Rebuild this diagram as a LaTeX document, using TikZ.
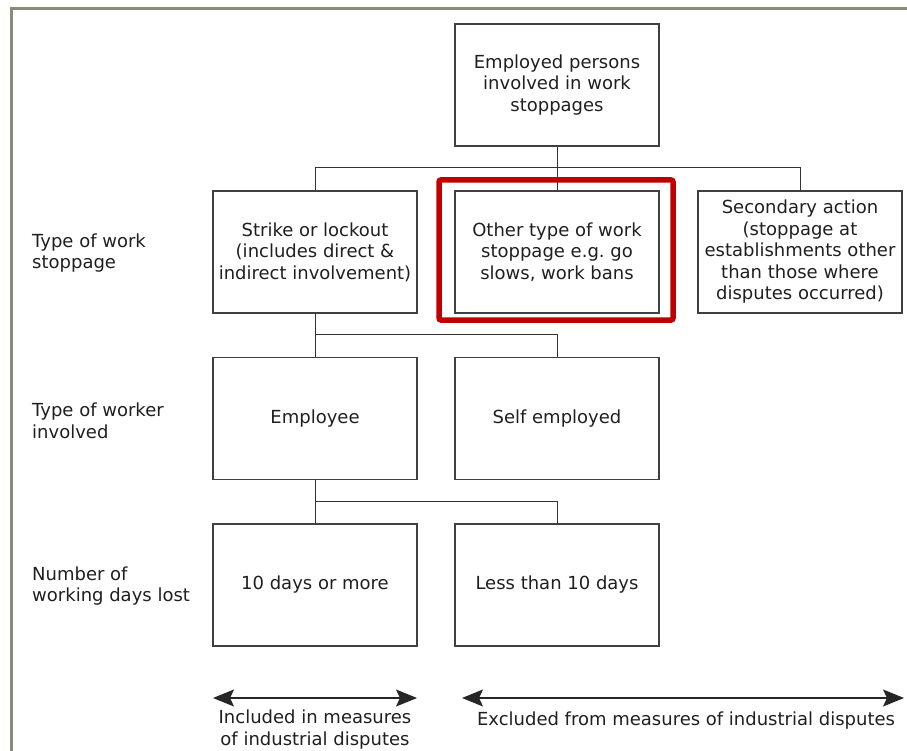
\documentclass[tikz,border=0pt]{standalone}
\usepackage{fontspec}
\setmainfont{DejaVu Sans}
\usetikzlibrary{arrows.meta}
\definecolor{framegray}{RGB}{138,138,118}
\definecolor{markred}{RGB}{192,0,0}

\begin{document}
\begin{tikzpicture}[x=1pt,y=-1pt,
  every node/.style={font=\fontsize{18}{21.5}\selectfont, text=black!88},
  box/.style={draw=black!75, line width=1.1pt, minimum width=204pt, minimum height=122pt, align=center, inner sep=1pt},
  rowlabel/.style={anchor=west, align=left, inner sep=0pt},
  link/.style={draw=black!80, line width=1pt},
  rangearrow/.style={draw=black!85, line width=1.2pt, {Stealth[length=21pt,width=17pt,inset=4pt]}-{Stealth[length=21pt,width=17pt,inset=4pt]}}]
\useasboundingbox (0,0) rectangle (907,751);
\draw[framegray, line width=2.5pt] (11.5,760) -- (11.5,8.5) -- (915,8.5);

\node[box] (persons) at (557,85) {Employed persons\\involved in work\\stoppages};

\node[box] (strike) at (315,252) {Strike or lockout\\(includes direct \&\\indirect involvement)};
\node[box] (other) at (557,252) {Other type of work\\stoppage e.g.\ go\\slows, work bans};
\node[box] (secondary) at (800,252) {Secondary action\\(stoppage at\\establishments other\\than those where\\disputes occurred)};

\node[box] (employee) at (315,418.5) {Employee};
\node[box] (self) at (557,418.5) {Self employed};

\node[box] (tenmore) at (315,585) {10 days or more};
\node[box] (tenless) at (557,585) {Less than 10 days};

\node[rowlabel] (worktype) at (32,253) {Type of work\\stoppage};
\node[rowlabel] (workertype) at (32,421) {Type of worker\\involved};
\node[rowlabel] (dayslost) at (32,586) {Number of\\working days lost};

\coordinate (bus1) at (557,168);
\coordinate (bus2) at (315,334);
\coordinate (bus3) at (315,501);
\draw[link] (persons) -- (other);
\draw[link] (bus1) -| (strike.north);
\draw[link] (bus1) -| (secondary.north);
\draw[link] (strike) -- (employee);
\draw[link] (bus2) -| (self.north);
\draw[link] (employee) -- (tenmore);
\draw[link] (bus3) -| (tenless.north);

\draw[markred, line width=5.5pt, rounded corners=2pt] (439,180) rectangle (673,320);

\coordinate (inleft) at (213,698);
\coordinate (inright) at (417,698);
\coordinate (exleft) at (462,698);
\coordinate (exright) at (904,698);
\draw[rangearrow] (inleft) -- (inright);
\draw[rangearrow] (exleft) -- (exright);

\node[align=center, inner sep=0pt] (included) at (315,729.5) {Included in measures\\of industrial disputes};
\node[inner sep=0pt] (excluded) at (686,721) {Excluded from measures of industrial disputes};
\end{tikzpicture}
\end{document}
